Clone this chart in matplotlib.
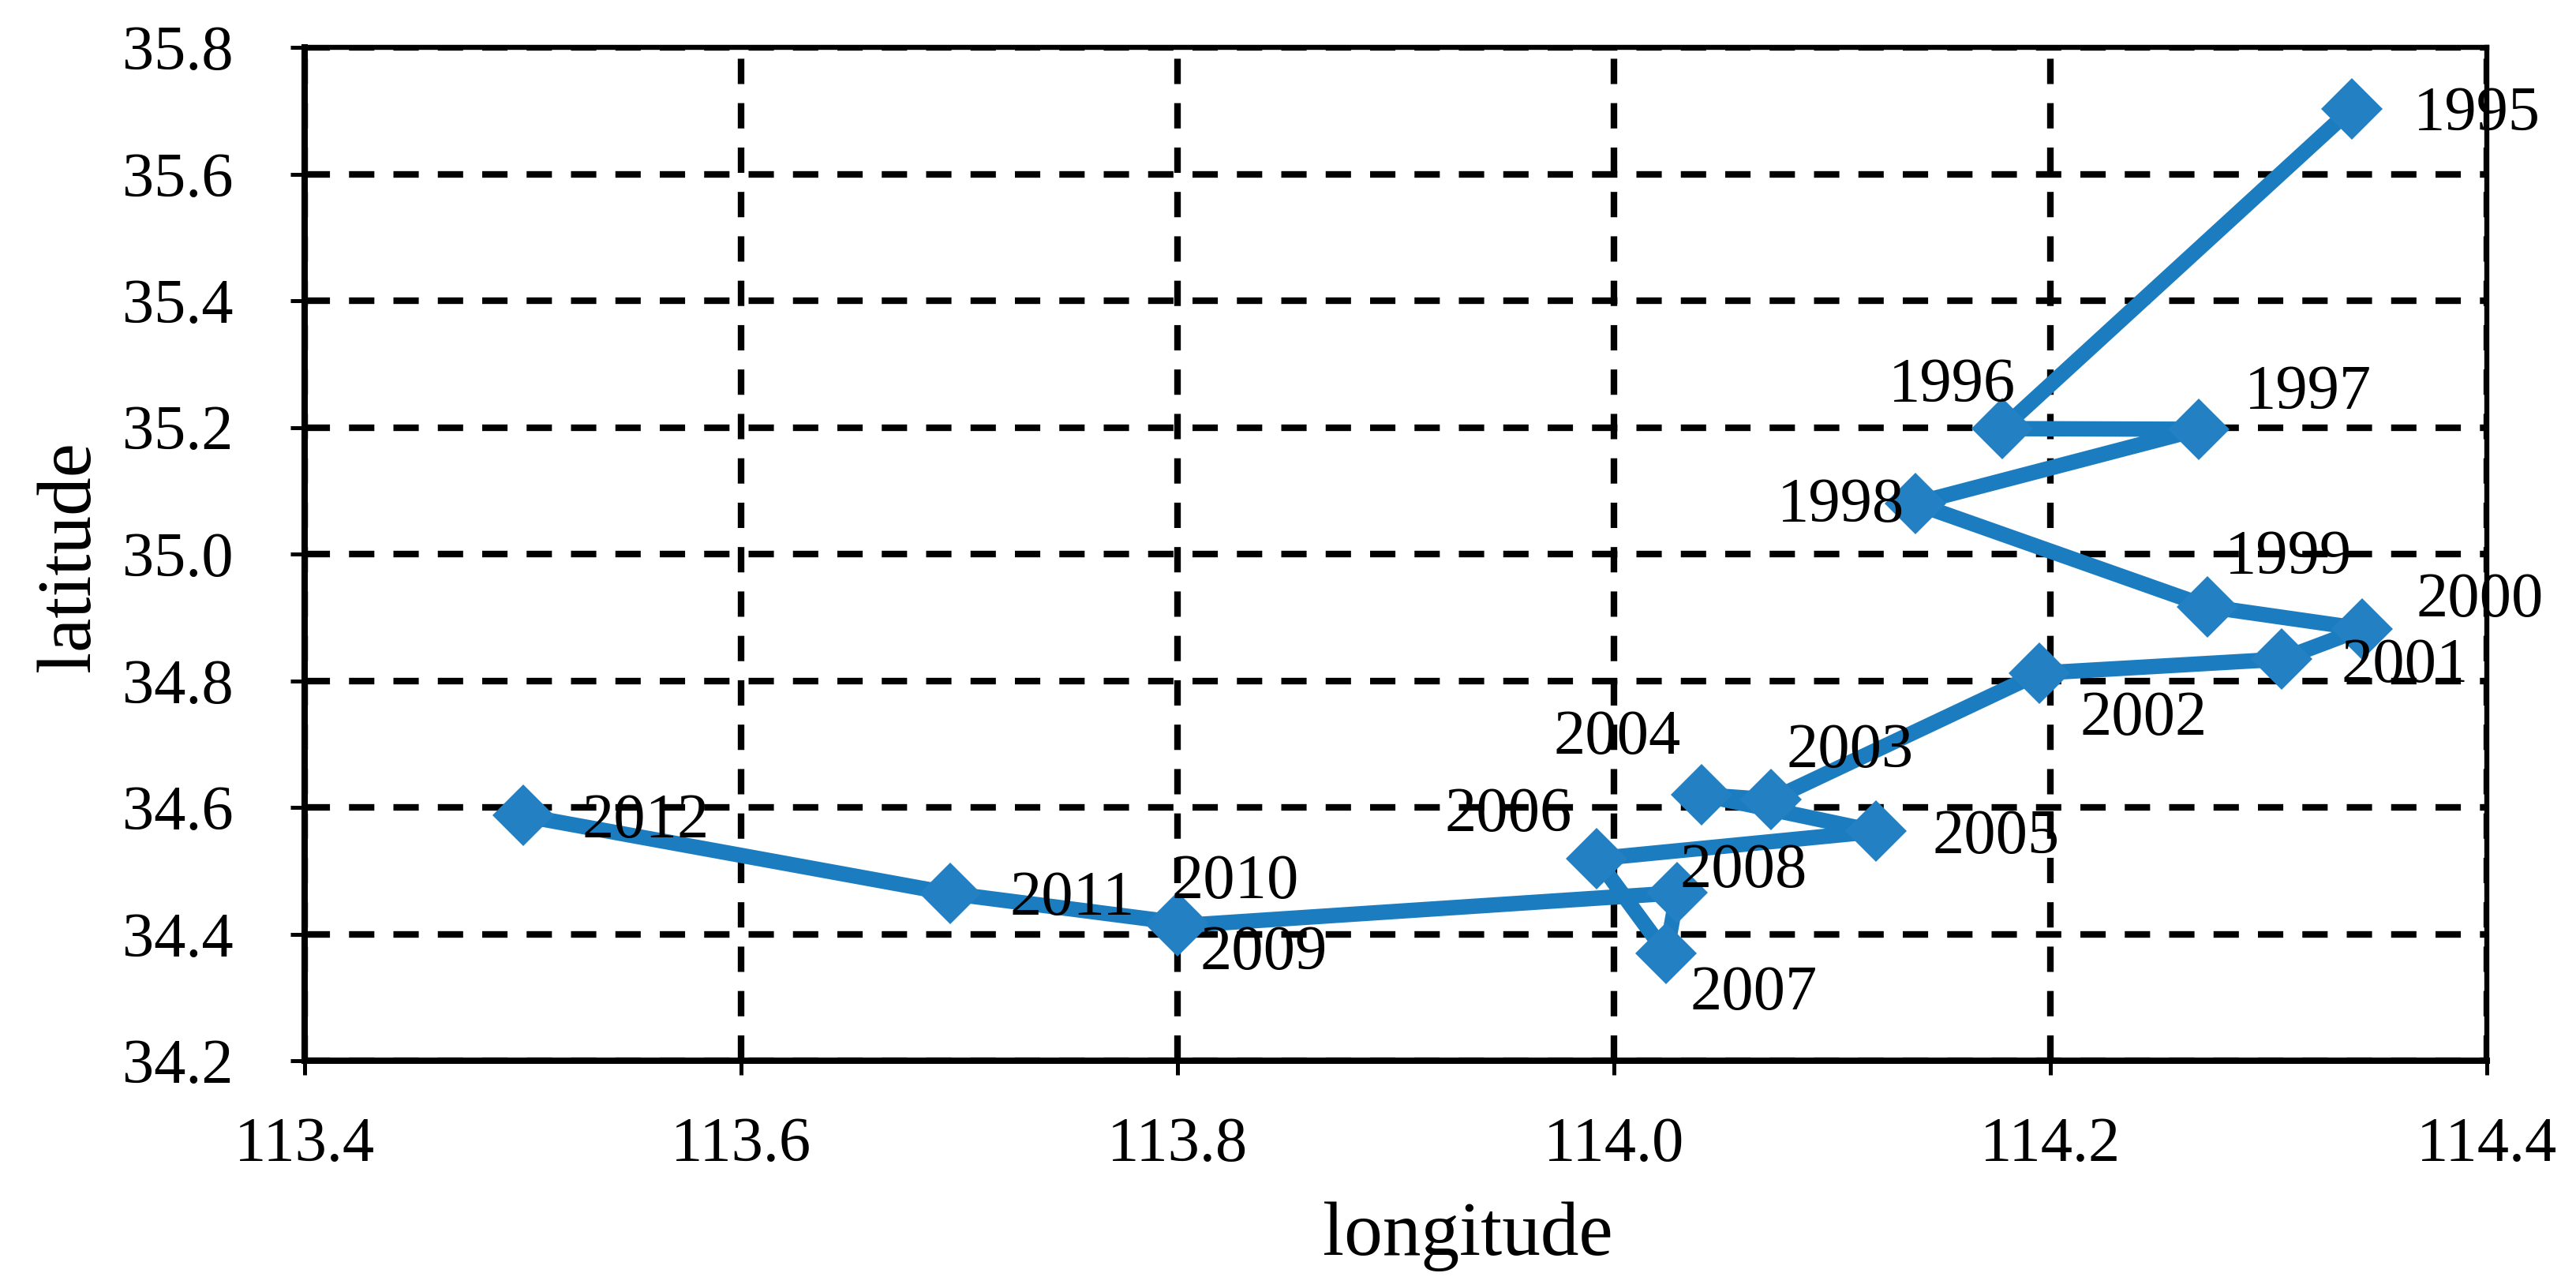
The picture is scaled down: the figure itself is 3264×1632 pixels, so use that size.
import matplotlib
matplotlib.use("Agg")
import matplotlib.pyplot as plt

# ---- data ----
years = [1995, 1996, 1997, 1998, 1999, 2000, 2001, 2002, 2003,
         2004, 2005, 2006, 2007, 2008, 2009, 2010, 2011, 2012]
longitude = [114.338, 114.178, 114.268, 114.138, 114.272, 114.343, 114.306,
             114.195, 114.072, 114.040, 114.120, 113.992, 114.024, 114.029,
             113.800, 113.800, 113.696, 113.500]
latitude = [35.703, 35.198, 35.197, 35.080, 34.917, 34.882, 34.834,
            34.812, 34.612, 34.620, 34.562, 34.519, 34.369, 34.465,
            34.413, 34.418, 34.464, 34.587]
x_ticks = [113.4, 113.6, 113.8, 114.0, 114.2, 114.4]
y_ticks = [34.2, 34.4, 34.6, 34.8, 35.0, 35.2, 35.4, 35.6, 35.8]
x_label = "longitude"
y_label = "latitude"

# label placement (pixel offsets: dx right, dy up from marker; alignment)
label_layout = {
    1995: (78, 0, "left"), 1996: (17, 61, "right"), 1997: (58, 53, "left"),
    1998: (-13, 4, "right"), 1999: (22, 69, "left"), 2000: (68, 43, "left"),
    2001: (75, -2, "left"), 2002: (51, -51, "left"), 2003: (19, 69, "left"),
    2004: (-26, 79, "right"), 2005: (72, 0, "left"), 2006: (-31, 62, "right"),
    2007: (30, -43, "left"), 2008: (3, 35, "left"), 2009: (28, -28, "left"),
    2010: (-8, 58, "left"), 2011: (75, 0, "left"), 2012: (75, 0, "left"),
}

DPI = 200
W, H = 3264, 1632
plt.rcParams["font.family"] = ["Liberation Serif", "DejaVu Serif"]

fig = plt.figure(figsize=(W / DPI, H / DPI), dpi=DPI)
ax = fig.add_axes([386 / W, 1 - 1344 / H, (3151 - 386) / W, (1344 - 60) / H])

color = "#1b7dc0"
ax.plot(longitude, latitude, color=color, lw=7, marker="D", ms=20,
        mew=0, mfc="#2380c2", solid_joinstyle="round", solid_capstyle="round",
        zorder=3)

fs = 29
cap_px = 0.676 * fs * DPI / 72
for yr, lo, la in zip(years, longitude, latitude):
    dx, dy, ha = label_layout[yr]
    ax.annotate(str(yr), (lo, la), xytext=(dx, dy - cap_px / 2),
                textcoords="offset pixels", ha=ha, va="baseline",
                fontsize=fs, color="black", zorder=4)

ax.set_xlim(113.4, 114.4)
ax.set_ylim(34.2, 35.8)
ax.set_xticks(x_ticks)
ax.set_yticks(y_ticks)
ax.set_xticklabels([f"{v:.1f}" for v in x_ticks])
ax.set_yticklabels([f"{v:.1f}" for v in y_ticks])

ax.grid(True, color="black", lw=3.0, linestyle=(0, (3.85, 2.9)), zorder=1)
ax.set_axisbelow(True)

for side in ["left", "bottom"]:
    ax.spines[side].set_linewidth(2.9)
for side in ["top", "right"]:
    ax.spines[side].set_linewidth(2.3)

ax.tick_params(axis="both", direction="inout", length=13, width=1.8,
               labelsize=29, colors="black")
ax.tick_params(axis="x", pad=19)
ax.tick_params(axis="y", pad=26)

fig.text(1860 / W, 1 - 1590 / H, x_label, ha="center", va="baseline",
         fontsize=35)
fig.text(90 / W, 1 - 705 / H, y_label, ha="center", va="center",
         rotation=90, fontsize=35)

fig.savefig("out.png", dpi=DPI)
